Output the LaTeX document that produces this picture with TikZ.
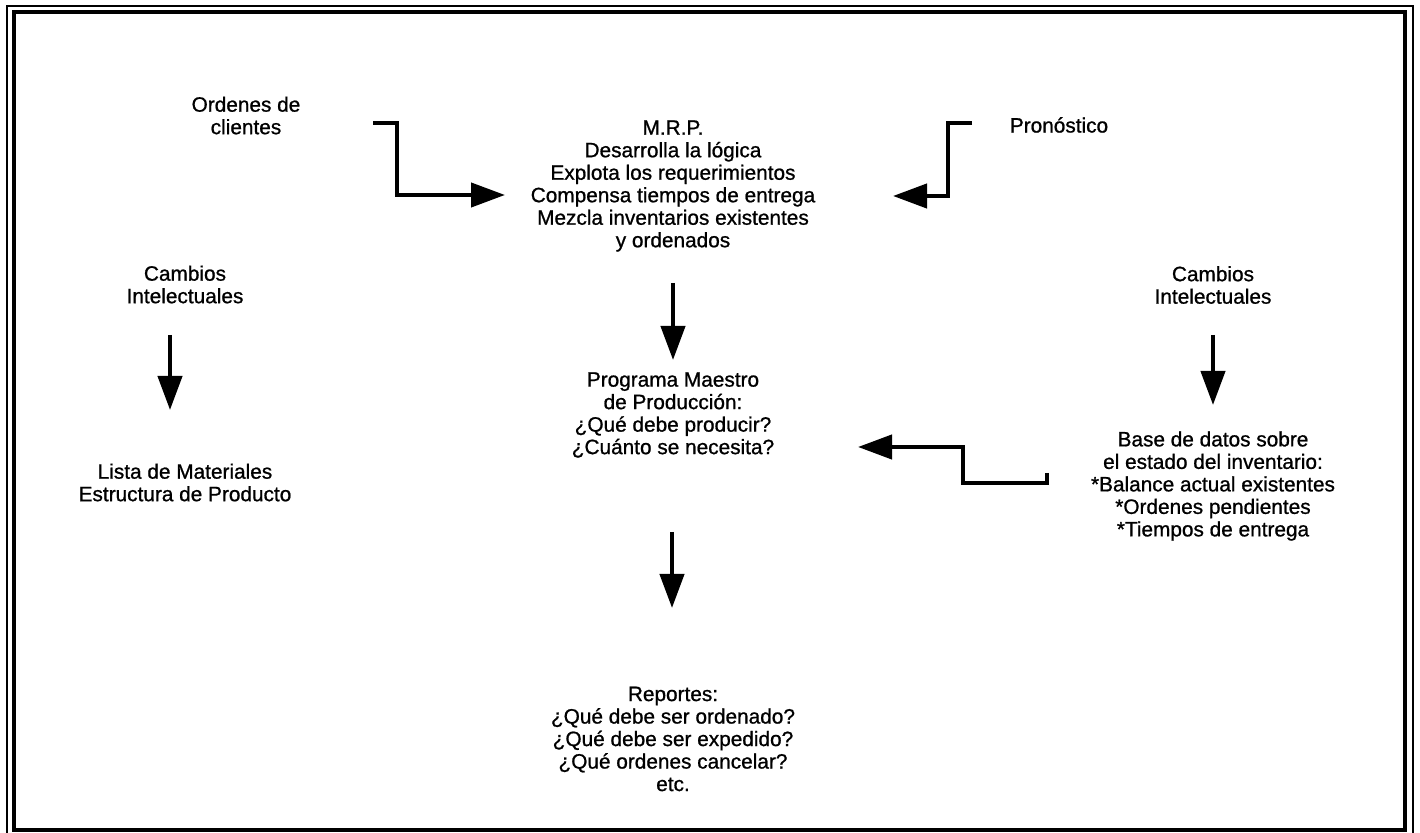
\documentclass[tikz,border=0pt]{standalone}
\usepackage{fontspec}
\setmainfont{Liberation Sans}
\newfontfamily\scanfont[FakeBold=0.9]{Liberation Sans}
\usetikzlibrary{arrows.meta}
\begin{document}
\begin{tikzpicture}[x=0.5pt,y=-0.5pt,
  lbl/.style={align=center,inner sep=0pt,font=\scanfont\fontsize{10.4}{11.25}\selectfont},
  arr/.style={line width=2.1pt,-{Triangle[length=17pt,width=12pt]}},
  frameouter/.style={line width=0.8pt},
  frameinner/.style={line width=2pt}]
\useasboundingbox (0,0) rectangle (1420,833);
\clip (0,0) rectangle (1420,833);
\fill[white] (0,0) rectangle (1420,833);
% frame
\draw[frameouter] (7,6) rectangle (1413,845);
\draw[frameinner] (14,12) rectangle (1405,830);
% texts
\node[lbl] (ord) at (246,115.5) {Ordenes de\\clientes};
\node[lbl] (mrp) at (673,186) {M.R.P.\\Desarrolla la lógica\\Explota los requerimientos\\Compensa tiempos de entrega\\Mezcla inventarios existentes\\y ordenados};
\node[lbl] (pron) at (1059,125) {Pronóstico};
\node[lbl] (cambL) at (185,284.5) {Cambios\\Intelectuales};
\node[lbl] (cambR) at (1213,285) {Cambios\\Intelectuales};
\node[lbl] (pmp) at (673,415) {Programa Maestro\\de Producción:\\¿Qué debe producir?\\¿Cuánto se necesita?};
\node[lbl] (lista) at (185,482.5) {Lista de Materiales\\Estructura de Producto};
\node[lbl] (base) at (1213,486) {Base de datos sobre\\el estado del inventario:\\*Balance actual existentes\\*Ordenes pendientes\\*Tiempos de entrega};
\node[lbl] (rep) at (673,739) {Reportes:\\¿Qué debe ser ordenado?\\¿Qué debe ser expedido?\\¿Qué ordenes cancelar?\\etc.};
% connector end points
\coordinate (ordS) at (373,123);
\coordinate (ordK) at (397,123);
\coordinate (mrpL) at (505,195);
\coordinate (pronS) at (972,123);
\coordinate (pronK) at (948,123);
\coordinate (mrpR) at (893,196);
\coordinate (mrpB) at (673,283);
\coordinate (pmpT) at (673,360);
\coordinate (cambLB) at (170,335);
\coordinate (listaT) at (170,410);
\coordinate (cambRB) at (1213,335);
\coordinate (baseT) at (1213,405);
\coordinate (pmpB) at (672,532);
\coordinate (repT) at (672,608);
\coordinate (baseS) at (1047,483);
\coordinate (baseK) at (963,483);
\coordinate (pmpR) at (858,447);
% connectors
\draw[arr] (ordS) -- (ordK) |- (mrpL);
\draw[arr] (pronS) -- (pronK) |- (mrpR);
\draw[arr] (mrpB) -- (pmpT);
\draw[arr] (cambLB) -- (listaT);
\draw[arr] (cambRB) -- (baseT);
\draw[arr] (pmpB) -- (repT);
\draw[arr] ([yshift=5pt]baseS) -- (baseS) -- (baseK) |- (pmpR);
\end{tikzpicture}
\end{document}
